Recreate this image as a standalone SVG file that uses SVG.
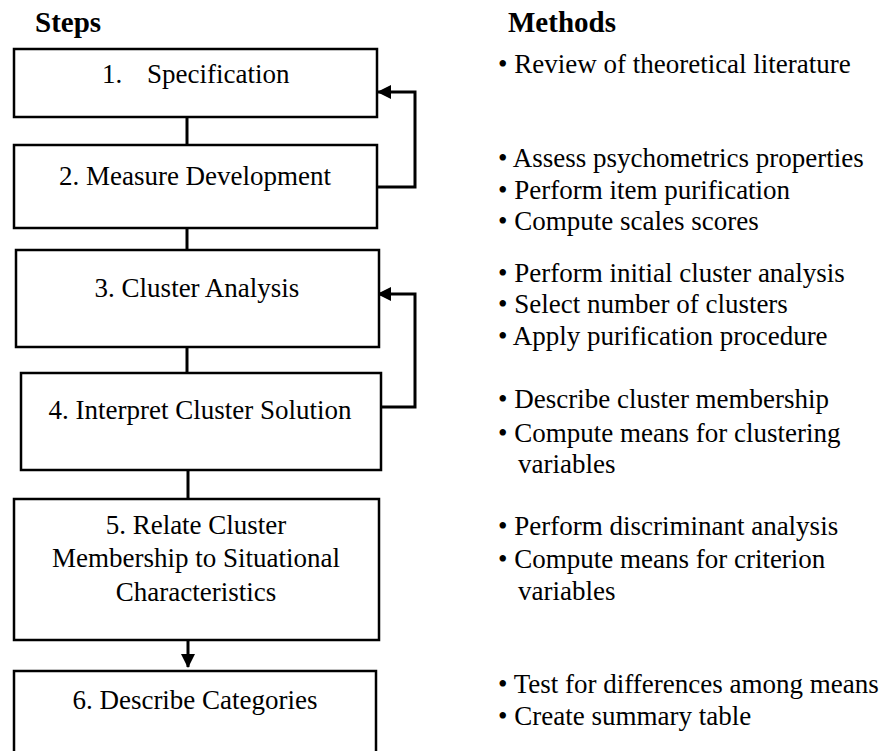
<svg xmlns="http://www.w3.org/2000/svg" width="893" height="751" viewBox="0 0 893 751">
  <style>
    .box { fill: #ffffff; stroke: #000000; stroke-width: 2.5; }
    .lbl { font-size: 27px; fill: #000000; }
    .mid { text-anchor: middle; }
    .head { font-size: 29px; font-weight: bold; fill: #000000; }
    .link { fill: none; stroke: #000000; stroke-width: 3; }
    .loop { fill: none; stroke: #000000; stroke-width: 3; }
  </style>
  <defs>
    <marker id="arrow" viewBox="0 0 14 14" refX="13" refY="7" markerWidth="14" markerHeight="14" markerUnits="userSpaceOnUse" orient="auto">
      <path d="M0,0 L14,7 L0,14 Z" fill="#000000"/>
    </marker>
  </defs>

  <rect width="893" height="751" fill="#ffffff"/>

  <g font-family="'Liberation Serif', 'Times New Roman', 'DejaVu Serif', serif">
  <!-- column headings -->
  <text class="head" x="35" y="32">Steps</text>
  <text class="head" x="508" y="32">Methods</text>

  <!-- connectors between steps and feedback loops -->
  <g id="connectors">
    <line class="link" x1="187" y1="117" x2="187" y2="145"/>
    <line class="link" x1="187" y1="228" x2="187" y2="250"/>
    <line class="link" x1="187" y1="347" x2="187" y2="373"/>
    <line class="link" x1="188" y1="470" x2="188" y2="499"/>
    <line class="link" x1="188" y1="640" x2="188" y2="667" marker-end="url(#arrow)"/>
    <polyline class="loop" points="377,187 415,187 415,92 378,92" marker-end="url(#arrow)"/>
    <polyline class="loop" points="381,407 415,407 415,294 378,294" marker-end="url(#arrow)"/>
  </g>

  <g id="step1">
    <rect class="box" x="14" y="49" width="363" height="68"/>
    <text class="lbl" x="102" y="83">1.</text>
    <text class="lbl" x="147" y="83">Specification</text>
  </g>

  <g id="step2">
    <rect class="box" x="14" y="145" width="363" height="83"/>
    <text class="lbl mid" x="195" y="185">2. Measure Development</text>
  </g>

  <g id="step3">
    <rect class="box" x="16" y="250" width="363" height="97"/>
    <text class="lbl mid" x="197" y="297">3. Cluster Analysis</text>
  </g>

  <g id="step4">
    <rect class="box" x="21" y="373" width="360" height="97"/>
    <text class="lbl mid" x="200" y="419">4. Interpret Cluster Solution</text>
  </g>

  <g id="step5">
    <rect class="box" x="14" y="499" width="365" height="141"/>
    <text class="lbl mid" x="196" y="534">5. Relate Cluster</text>
    <text class="lbl mid" x="196" y="567">Membership to Situational</text>
    <text class="lbl mid" x="196" y="601">Characteristics</text>
  </g>

  <g id="step6">
    <rect class="box" x="14" y="671" width="362" height="100"/>
    <text class="lbl mid" x="195" y="709">6. Describe Categories</text>
  </g>

  <!-- methods for each step -->
  <g id="methods">
    <text class="lbl" x="498" y="73">• Review of theoretical literature</text>
    <text class="lbl" x="498" y="167">• Assess psychometrics properties</text>
    <text class="lbl" x="498" y="199">• Perform item purification</text>
    <text class="lbl" x="498" y="230">• Compute scales scores</text>
    <text class="lbl" x="498" y="282">• Perform initial cluster analysis</text>
    <text class="lbl" x="498" y="313">• Select number of clusters</text>
    <text class="lbl" x="498" y="345">• Apply purification procedure</text>
    <text class="lbl" x="498" y="408">• Describe cluster membership</text>
    <text class="lbl" x="498" y="442">• Compute means for clustering</text>
    <text class="lbl" x="518" y="473">variables</text>
    <text class="lbl" x="498" y="535">• Perform discriminant analysis</text>
    <text class="lbl" x="498" y="568">• Compute means for criterion</text>
    <text class="lbl" x="518" y="600">variables</text>
    <text class="lbl" x="498" y="693">• Test for differences among means</text>
    <text class="lbl" x="498" y="725">• Create summary table</text>
  </g>
  </g>
</svg>
